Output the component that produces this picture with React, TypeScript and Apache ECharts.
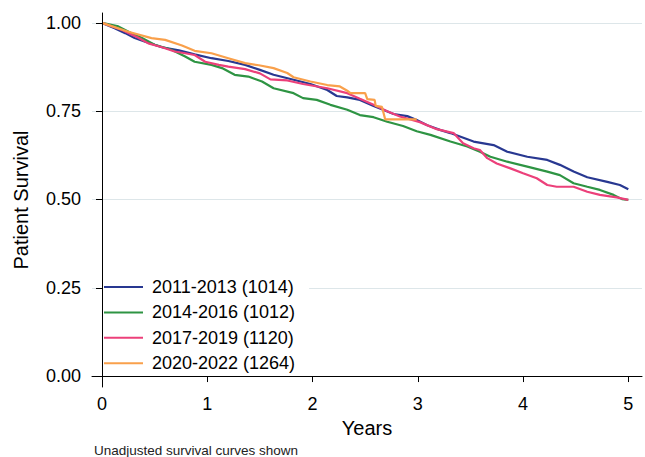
import { useEffect, useRef } from 'react';
import * as echarts from 'echarts';

// Kaplan-Meier curves (years, survival)
const GROUPS = ['2011-2013 (1014)', '2014-2016 (1012)', '2017-2019 (1120)', '2020-2022 (1264)'];

const t2011 = [0, 0.12, 0.22, 0.31, 0.41, 0.57, 0.73, 0.88, 1.04, 1.2, 1.36, 1.5, 1.63, 1.82, 1.98, 2.14, 2.23, 2.33, 2.45, 2.58, 2.67, 2.77, 2.9, 2.99, 3.09, 3.21, 3.31, 3.53, 3.72, 3.85, 4.04, 4.23, 4.35, 4.48, 4.61, 4.8, 4.92, 5.0];
const s2011 = [1, 0.985, 0.971, 0.957, 0.947, 0.931, 0.922, 0.911, 0.9, 0.892, 0.881, 0.867, 0.853, 0.839, 0.827, 0.81, 0.793, 0.789, 0.782, 0.765, 0.754, 0.742, 0.736, 0.725, 0.71, 0.697, 0.688, 0.664, 0.654, 0.635, 0.621, 0.612, 0.598, 0.579, 0.563, 0.55, 0.541, 0.529];

const t2014 = [0, 0.155, 0.28, 0.38, 0.5, 0.66, 0.79, 0.88, 1.04, 1.14, 1.26, 1.39, 1.52, 1.63, 1.82, 1.91, 2.04, 2.17, 2.33, 2.45, 2.58, 2.71, 2.86, 2.99, 3.12, 3.31, 3.47, 3.59, 3.69, 3.85, 4.04, 4.23, 4.35, 4.48, 4.61, 4.73, 4.86, 4.94, 5.0];
const s2014 = [1, 0.99, 0.971, 0.957, 0.938, 0.924, 0.905, 0.89, 0.881, 0.872, 0.853, 0.848, 0.834, 0.815, 0.801, 0.787, 0.782, 0.768, 0.754, 0.739, 0.733, 0.72, 0.708, 0.693, 0.683, 0.664, 0.65, 0.635, 0.621, 0.607, 0.593, 0.579, 0.569, 0.546, 0.536, 0.527, 0.513, 0.501, 0.499];

const t2017 = [0, 0.19, 0.35, 0.44, 0.57, 0.69, 0.79, 0.88, 0.98, 1.11, 1.2, 1.36, 1.5, 1.6, 1.76, 1.91, 2.14, 2.33, 2.45, 2.58, 2.71, 2.83, 3.02, 3.18, 3.34, 3.43, 3.53, 3.59, 3.66, 3.75, 3.88, 4.0, 4.13, 4.23, 4.32, 4.48, 4.61, 4.73, 4.89, 5.0];
const s2017 = [1, 0.98, 0.957, 0.942, 0.931, 0.919, 0.914, 0.909, 0.89, 0.881, 0.876, 0.869, 0.857, 0.84, 0.837, 0.827, 0.815, 0.801, 0.785, 0.768, 0.75, 0.735, 0.719, 0.699, 0.688, 0.659, 0.645, 0.64, 0.617, 0.602, 0.588, 0.574, 0.56, 0.541, 0.536, 0.536, 0.522, 0.513, 0.506, 0.499];

const t2020 = [0, 0.25, 0.47, 0.6, 0.76, 0.88, 1.04, 1.2, 1.36, 1.49, 1.63, 1.76, 1.82, 1.98, 2.14, 2.26, 2.33, 2.36, 2.5, 2.52, 2.59, 2.6, 2.66, 2.69, 2.99];
const s2020 = [1, 0.975, 0.957, 0.952, 0.936, 0.921, 0.914, 0.9, 0.886, 0.88, 0.872, 0.858, 0.846, 0.834, 0.824, 0.82, 0.808, 0.801, 0.801, 0.784, 0.782, 0.765, 0.762, 0.727, 0.727];

const X_TICKS = [0, 1, 2, 3, 4, 5];
const Y_TICKS = [0, 0.25, 0.5, 0.75, 1];
const Y_GRID = [0.25, 0.5, 0.75, 1];

const COLORS = ['#283891', '#2e9443', '#ec407a', '#f9a04b'];
const FONT = 'Liberation Sans, Arial, sans-serif';

const pairs = (t: number[], s: number[]) => t.map((x, i) => [x, s[i]]);

export default function App() {
  const chartRef = useRef<HTMLDivElement>(null);

  useEffect(() => {
    if (!chartRef.current) return;
    const chart = echarts.init(chartRef.current, null, { renderer: 'svg' });

    const curves = [pairs(t2011, s2011), pairs(t2014, s2014), pairs(t2017, s2017), pairs(t2020, s2020)];

    const option: echarts.EChartsOption = {
      animation: false,
      backgroundColor: '#fff',
      textStyle: { fontFamily: FONT },
      title: {
        text: 'Unadjusted survival curves shown',
        left: 94,
        top: 443,
        padding: 0,
        textStyle: { fontSize: 13.5, fontWeight: 'normal', color: '#222', fontFamily: FONT },
      },
      grid: { left: 92, right: 3, top: 13, bottom: 70, containLabel: false },
      xAxis: {
        type: 'value',
        min: -0.095,
        max: 5.13,
        z: 20,
        name: 'Years',
        nameLocation: 'middle',
        nameGap: 22,
        nameTextStyle: { fontSize: 20, color: '#000', fontFamily: FONT },
        axisLine: { lineStyle: { color: '#000', width: 1 } },
        axisTick: { customValues: X_TICKS, length: 6, lineStyle: { color: '#000' } },
        axisLabel: { customValues: X_TICKS, fontSize: 18, color: '#000', margin: 8, fontFamily: FONT },
        splitLine: { show: false },
      },
      yAxis: {
        type: 'value',
        min: -0.031,
        max: 1.028,
        z: 20,
        name: 'Patient Survival',
        nameLocation: 'middle',
        nameRotate: 90,
        nameGap: 61,
        nameTextStyle: { fontSize: 20, color: '#000', fontFamily: FONT },
        axisLine: { show: true, lineStyle: { color: '#000', width: 1 } },
        axisTick: { show: true, customValues: Y_TICKS, length: 6, lineStyle: { color: '#000' } },
        axisLabel: {
          customValues: Y_TICKS,
          fontSize: 18,
          color: '#000',
          margin: 11,
          fontFamily: FONT,
          formatter: (v: number) => v.toFixed(2),
        },
        splitLine: { show: false },
      },
      legend: {
        data: GROUPS,
        orient: 'vertical',
        left: 97,
        top: 274,
        z: 10,
        padding: [4, 14, 4, 7],
        backgroundColor: '#fff',
        itemWidth: 39,
        itemHeight: 14,
        itemGap: 7.4,
        icon: 'path://M0,6 L39,6 L39,8 L0,8 Z',
        textStyle: { fontSize: 18, color: '#000', lineHeight: 18, padding: [0, 0, 0, 4], fontFamily: FONT },
      },
      series: [
        {
          name: 'grid',
          type: 'line',
          data: [],
          silent: true,
          z: 1,
          markLine: {
            silent: true,
            z: 1,
            symbol: 'none',
            label: { show: false },
            lineStyle: { color: '#dde6e9', width: 1, type: 'solid' },
            data: Y_GRID.map((v) => ({ yAxis: v })),
          },
        },
        ...GROUPS.map((name, i) => ({
          name,
          type: 'line' as const,
          data: curves[i],
          symbol: 'none',
          z: 2 + i,
          itemStyle: { color: COLORS[i] },
          lineStyle: { color: COLORS[i], width: 2.2 },
        })),
      ],
    };

    chart.setOption(option);

    return () => {
      chart.dispose();
    };
  }, []);

  return (
    <div
      ref={chartRef}
      style={{ position: 'fixed', left: 0, top: 0, width: '645px', height: '457px' }}
    />
  );
}
